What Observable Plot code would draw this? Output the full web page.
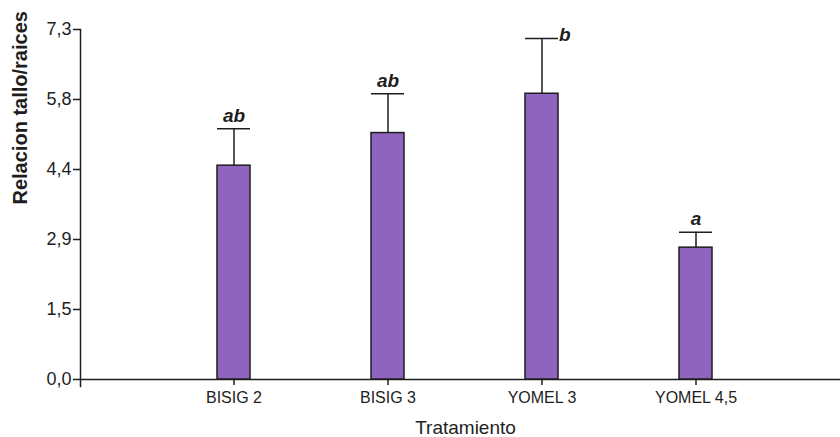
<!DOCTYPE html>
<html>
<head>
<meta charset="utf-8">
<script src="https://cdn.jsdelivr.net/npm/d3@7"></script>
<script src="https://cdn.jsdelivr.net/npm/@observablehq/plot@0.6"></script>
<style>
  html, body { margin: 0; padding: 0; background: #fff; }
  #chart svg { display: block; }
</style>
</head>
<body>
<div id="chart"></div>
<script>
// Relación tallo/raíces por tratamiento (media + error estándar, letras de Tukey)
const tratamientos = ["BISIG 2", "BISIG 3", "YOMEL 3", "YOMEL 4,5"];
const medias = [4.46, 5.14, 5.96, 2.75];
const errores = [0.77, 0.82, 1.15, 0.32];
const letras = ["ab", "ab", "b", "a"];
const yTicks = [0, 1.46, 2.92, 4.38, 5.84, 7.3];
const yMax = 7.3;

const data = tratamientos.map((t, i) => ({
  trat: t,
  media: medias[i],
  sup: medias[i] + errores[i],
  letra: letras[i]
}));

const ink = "#1e1e1e";
const barFill = "#8F64BE";
const fmt = d => d.toFixed(1).replace(".", ",");

// letters that would run past the top of the axis sit beside the cap instead
const fitsAbove = d => d.sup + 0.35 <= yMax;

const W = 840, H = 437;

const chart = Plot.plot({
  width: W,
  height: H,
  marginLeft: 80,
  marginRight: 0,
  marginTop: 29,
  marginBottom: 58,
  style: {fontFamily: "'Liberation Sans', Arial, sans-serif", color: ink, background: "#fff"},
  x: {type: "band", domain: tratamientos, paddingInner: 0.786, paddingOuter: 0.857, align: 0.517},
  y: {domain: [0, yMax]},
  marks: [
    Plot.frame({anchor: "left", stroke: ink, strokeWidth: 1.5, insetBottom: -7}),
    Plot.ruleY([0], {stroke: ink, strokeWidth: 1.5}),
    Plot.axisY({ticks: yTicks, tickFormat: fmt, tickSize: 7, tickPadding: 2, fontSize: 18, stroke: ink, strokeWidth: 1.5, label: null}),
    Plot.axisX({tickSize: 6, tickPadding: 6, fontSize: 16, stroke: ink, strokeWidth: 1.5, label: null}),
    Plot.ruleX(data, {x: "trat", y1: "media", y2: "sup", stroke: ink, strokeWidth: 1.5}),
    Plot.tickY(data, {x: "trat", y: "sup", stroke: ink, strokeWidth: 1.5}),
    Plot.barY(data, {x: "trat", y: "media", fill: barFill, stroke: ink, strokeWidth: 1.5}),
    Plot.text(data.filter(fitsAbove), {x: "trat", y: "sup", text: "letra", lineAnchor: "bottom", dy: -7,
      fontSize: 19, fontWeight: "bold", fontStyle: "italic", fill: ink}),
    Plot.text(data.filter(d => !fitsAbove(d)), {x: "trat", y: "sup", text: "letra", lineAnchor: "bottom", textAnchor: "start",
      dx: 17, dy: 2, fontSize: 19, fontWeight: "bold", fontStyle: "italic", fill: ink}),
    Plot.text(["Relacion tallo/raices"], {frameAnchor: "left", rotate: -90, dx: -60, fontSize: 20, fontWeight: "bold", fill: ink}),
    Plot.text(["Tratamiento"], {frameAnchor: "bottom", lineAnchor: "bottom", dx: 5, dy: 54, fontSize: 19, fill: ink})
  ]
});

document.getElementById("chart").appendChild(chart);
</script>
</body>
</html>
